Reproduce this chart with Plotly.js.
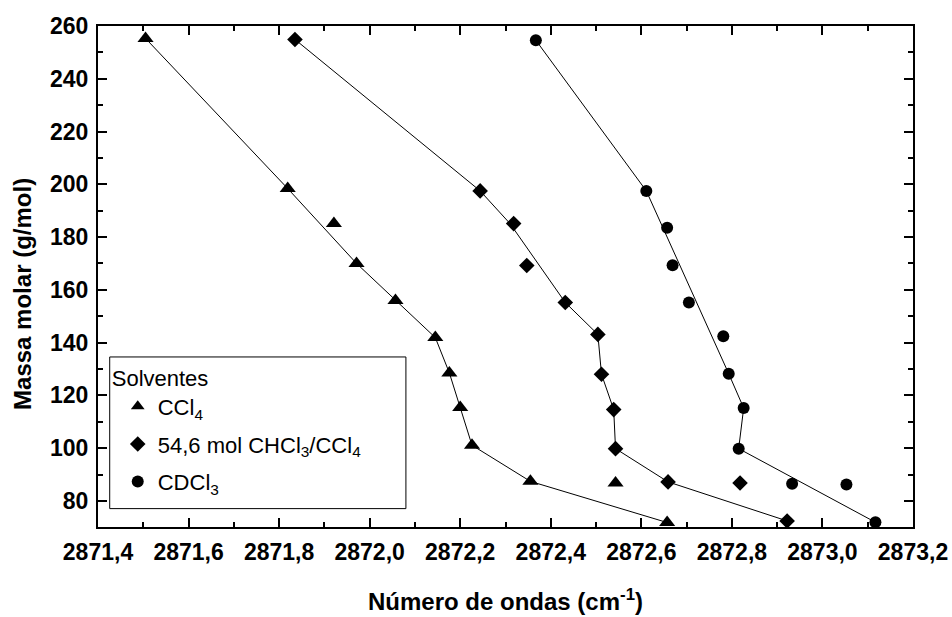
<!DOCTYPE html>
<html>
<head>
<meta charset="utf-8">
<script src="https://cdn.plot.ly/plotly-3.0.1.min.js"></script>
<style>html,body{margin:0;padding:0;background:#fff;}#chart{width:952px;height:617px;}</style>
</head>
<body>
<div id="chart"></div>
<script>
// ---- data ----
var seriesNames = ['CCl<sub>4</sub>', '54,6 mol CHCl<sub>3</sub>/CCl<sub>4</sub>', 'CDCl<sub>3</sub>'];

var ccl4X = [2871.505, 2871.819, 2871.921, 2871.971, 2872.057, 2872.145, 2872.176, 2872.200, 2872.226, 2872.355, 2872.543, 2872.657];
var ccl4Y = [255.3, 198.4, 185.1, 170.0, 156.0, 141.9, 128.5, 115.4, 101.1, 87.4, 86.8, 71.8];
var ccl4LineX = [2871.505, 2871.819, 2871.971, 2872.057, 2872.145, 2872.176, 2872.200, 2872.226, 2872.355, 2872.657];
var ccl4LineY = [255.3, 198.4, 170.0, 156.0, 141.9, 128.5, 115.4, 101.1, 87.4, 71.8];

var mixX = [2871.835, 2872.244, 2872.318, 2872.347, 2872.432, 2872.504, 2872.512, 2872.539, 2872.543, 2872.659, 2872.818, 2872.922];
var mixY = [254.9, 197.5, 185.1, 169.2, 155.2, 143.1, 128.0, 114.6, 99.8, 87.2, 86.8, 72.4];
var mixLineX = [2871.835, 2872.244, 2872.310, 2872.432, 2872.504, 2872.512, 2872.539, 2872.543, 2872.659, 2872.922];
var mixLineY = [254.9, 197.5, 185.1, 155.2, 143.1, 128.0, 114.6, 99.8, 87.2, 72.4];

var cdcl3X = [2872.367, 2872.611, 2872.657, 2872.669, 2872.705, 2872.781, 2872.793, 2872.826, 2872.815, 2872.933, 2873.053, 2873.117];
var cdcl3Y = [254.6, 197.5, 183.5, 169.3, 155.2, 142.4, 128.2, 115.2, 99.8, 86.5, 86.2, 71.9];
var cdcl3LineX = [2872.367, 2872.611, 2872.793, 2872.826, 2872.815, 2873.117];
var cdcl3LineY = [254.6, 197.5, 128.2, 115.2, 99.8, 71.9];

var xTitle = '<b>Número de ondas (cm<sup>-1</sup>)</b>';
var yTitle = '<b>Massa molar (g/mol)</b>';
var legendTitle = 'Solventes';

// ---- traces ----
var FONT = 'Arial, "Liberation Sans", sans-serif';
function lineTrace(x, y) {
  return {x: x, y: y, type: 'scatter', mode: 'lines', showlegend: false, hoverinfo: 'skip',
          line: {color: '#000', width: 1}};
}
function markTrace(x, y, name, symbol, size, grp) {
  return {x: x, y: y, type: 'scatter', mode: 'markers', name: name, legendgroup: grp,
          marker: {color: '#000', symbol: symbol, size: size, line: {width: 0}}};
}
var data = [
  lineTrace(ccl4LineX, ccl4LineY),
  lineTrace(mixLineX, mixLineY),
  lineTrace(cdcl3LineX, cdcl3LineY),
  markTrace(ccl4X, ccl4Y, seriesNames[0], 'triangle-up', 14, 'a'),
  markTrace(mixX, mixY, seriesNames[1], 'diamond', 12, 'b'),
  markTrace(cdcl3X, cdcl3Y, seriesNames[2], 'circle', 12, 'c')
];

var axisCommon = {
  showline: true, linecolor: '#000', linewidth: 2, mirror: 'ticks',
  ticks: 'inside', ticklen: 9, tickwidth: 2, tickcolor: '#000',
  showgrid: false, zeroline: false,
  tickfont: {family: FONT, size: 23, color: '#000', weight: 'bold'}
};

var layout = {
  width: 952, height: 617,
  margin: {l: 98, r: 39, t: 26, b: 90},
  paper_bgcolor: '#fff', plot_bgcolor: '#fff',
  separators: ',.',
  showlegend: true,
  font: {family: FONT, color: '#000'},
  xaxis: Object.assign({}, axisCommon, {
    range: [2871.4, 2873.2], tick0: 2871.4, dtick: 0.2, tickformat: '.1f',
    minor: {dtick: 0.1, ticks: 'inside', ticklen: 5, tickwidth: 2, tickcolor: '#000', showgrid: false},
    ticklabelstandoff: 3
  }),
  yaxis: Object.assign({}, axisCommon, {
    range: [70.1, 260], tick0: 80, dtick: 20,
    minor: {dtick: 10, ticks: 'inside', ticklen: 5, tickwidth: 2, tickcolor: '#000', showgrid: false},
    ticklabelstandoff: 3
  }),
  legend: {
    x: 0.0144, y: 0.3394, xanchor: 'left', yanchor: 'top',
    bgcolor: 'rgba(0,0,0,0)', borderwidth: 0,
    font: {family: FONT, size: 22, color: '#000'},
    title: {text: legendTitle, font: {family: FONT, size: 22, color: '#000'}},
    itemsizing: 'constant', tracegroupgap: 6, indentation: 8
  },
  shapes: [
    {type: 'rect', xref: 'paper', yref: 'paper', x0: 0.01436, x1: 0.3778, y0: 0.0367, y1: 0.3394,
     line: {color: '#000', width: 1}, fillcolor: '#fff', layer: 'above'}
  ],
  annotations: [
    {text: xTitle, xref: 'paper', yref: 'paper', x: 0.5, y: -0.146, xanchor: 'center', yanchor: 'middle',
     showarrow: false, font: {family: FONT, size: 24, color: '#000'}},
    {text: yTitle, xref: 'paper', yref: 'paper', x: -0.0924, y: 0.4646, xanchor: 'center', yanchor: 'middle',
     textangle: -90, showarrow: false, font: {family: FONT, size: 24, color: '#000'}}
  ]
};

Plotly.newPlot('chart', data, layout, {displayModeBar: false, staticPlot: true});
</script>
</body>
</html>
